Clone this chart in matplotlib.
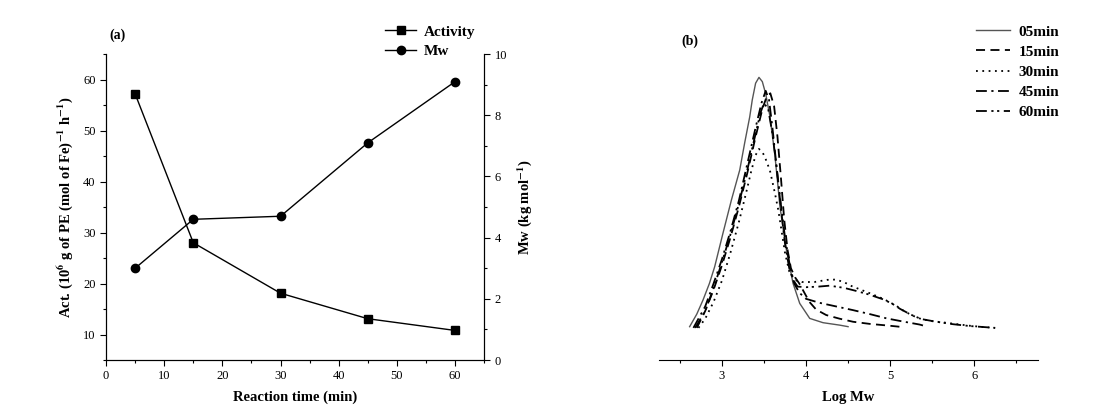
import matplotlib
matplotlib.use("Agg")
import matplotlib.pyplot as plt
from matplotlib.ticker import MultipleLocator

plt.rcParams['font.family'] = ['Liberation Serif', 'DejaVu Serif']
plt.rcParams['mathtext.fontset'] = 'stix'

# panel (a): activity and Mw vs reaction time
time_min = [5, 15, 30, 45, 60]
activity = [57.2, 28.0, 18.1, 13.1, 10.8]
mw_kg = [3.0, 4.6, 4.7, 7.1, 9.1]

# panel (b): GPC traces, log Mw vs signal
gpc_05_x = [2.615, 2.70, 2.774, 2.85, 2.913, 3.012, 3.112, 3.211, 3.27, 3.33, 3.36, 3.40, 3.44,
            3.48, 3.52, 3.568, 3.627, 3.667, 3.687, 3.727, 3.767, 3.845, 3.925, 4.044, 4.202, 4.401, 4.50]
gpc_05_y = [1.09, 1.50, 1.96, 2.50, 3.05, 4.15, 5.23, 6.21, 7.10, 7.95, 8.50, 9.05, 9.24,
            9.10, 8.70, 8.00, 6.76, 5.66, 5.07, 4.30, 3.59, 2.51, 1.85, 1.36, 1.22, 1.14, 1.09]

gpc_15_x = [2.70, 2.80, 2.90, 3.00, 3.10, 3.20, 3.30, 3.40, 3.48, 3.53, 3.575, 3.62, 3.66,
            3.70, 3.74, 3.78, 3.82, 3.87, 3.92, 3.96, 4.04, 4.12, 4.24, 4.40, 4.56, 4.76, 4.96, 5.14]
gpc_15_y = [1.05, 1.60, 2.30, 3.10, 4.00, 5.00, 6.10, 7.30, 8.20, 8.60, 8.72, 8.30, 7.30,
            6.00, 4.60, 3.60, 3.00, 2.70, 2.50, 2.30, 1.90, 1.65, 1.47, 1.35, 1.25, 1.18, 1.13, 1.08]

gpc_30_x = [2.72, 2.80, 2.90, 3.00, 3.10, 3.20, 3.29, 3.35, 3.40, 3.44, 3.48, 3.51, 3.57, 3.63,
            3.67, 3.71, 3.75, 3.80, 3.86, 3.95, 4.10, 4.25, 4.35, 4.45, 4.53, 4.65, 4.78, 4.90,
            4.99, 5.08, 5.16, 5.26, 5.37, 5.50, 5.66, 5.80, 5.95, 6.10, 6.25]
gpc_30_y = [1.05, 1.35, 1.90, 2.60, 3.50, 4.50, 5.50, 6.20, 6.70, 6.90, 6.80, 6.64, 6.20, 5.45,
            4.90, 4.20, 3.50, 2.90, 2.62, 2.55, 2.55, 2.62, 2.63, 2.55, 2.43, 2.30, 2.16, 2.02,
            1.90, 1.76, 1.61, 1.46, 1.34, 1.27, 1.22, 1.17, 1.12, 1.08, 1.05]

gpc_45_x = [2.66, 2.80, 2.90, 3.00, 3.10, 3.20, 3.30, 3.40, 3.47, 3.52, 3.56, 3.60, 3.65,
            3.70, 3.75, 3.80, 3.86, 3.92, 4.00, 4.16, 4.36, 4.56, 4.76, 4.96, 5.15, 5.35, 5.43]
gpc_45_y = [1.05, 1.75, 2.50, 3.30, 4.20, 5.20, 6.40, 7.60, 8.40, 8.80, 8.50, 7.60, 6.30,
            5.00, 3.80, 3.00, 2.50, 2.20, 2.00, 1.87, 1.75, 1.63, 1.50, 1.36, 1.26, 1.16, 1.10]

gpc_60_x = [2.68, 2.80, 2.90, 3.00, 3.10, 3.20, 3.30, 3.40, 3.46, 3.50, 3.55, 3.60, 3.65,
            3.70, 3.75, 3.80, 3.85, 3.90, 4.00, 4.15, 4.28, 4.45, 4.58, 4.75, 4.91, 5.02,
            5.12, 5.25, 5.37, 5.55, 5.75, 5.95, 6.10, 6.25]
gpc_60_y = [1.05, 1.60, 2.35, 3.20, 4.10, 5.10, 6.20, 7.40, 8.10, 8.40, 8.20, 7.40, 6.30,
            5.10, 4.00, 3.20, 2.60, 2.40, 2.38, 2.40, 2.43, 2.36, 2.27, 2.14, 1.99, 1.85,
            1.67, 1.48, 1.34, 1.25, 1.17, 1.11, 1.08, 1.05]

labels_b = ['05min', '15min', '30min', '45min', '60min']

fig = plt.figure(figsize=(10.99, 4.19), dpi=100)

# ---- (a)
ax = fig.add_axes([0.0965, 0.1408, 0.344, 0.730])
ax2 = ax.twinx()
l1, = ax.plot(time_min, activity, color='black', lw=1.0, marker='s', ms=5.8, label='Activity')
l2, = ax2.plot(time_min, mw_kg, color='black', lw=1.0, marker='o', ms=6, label='Mw')
ax.set_xlim(0, 65)
ax.set_ylim(5, 65)
ax2.set_ylim(0, 10)
ax.xaxis.set_major_locator(MultipleLocator(10))
ax.xaxis.set_minor_locator(MultipleLocator(5))
ax.set_yticks([10, 20, 30, 40, 50, 60])
ax.yaxis.set_minor_locator(MultipleLocator(5))
ax2.yaxis.set_major_locator(MultipleLocator(2))
ax2.yaxis.set_minor_locator(MultipleLocator(1))
for a in (ax, ax2):
    a.spines['top'].set_visible(False)
    a.tick_params(which='major', direction='out', length=4, width=0.8, labelsize=9)
    a.tick_params(which='minor', direction='out', length=2.5, width=0.8)
ax.set_xlabel('Reaction time (min)', fontsize=10.5, fontweight='bold', labelpad=6)
ax.set_ylabel('Act. (10$^\\mathbf{6}$ g of PE (mol of Fe)$^\\mathbf{-1}$ h$^\\mathbf{-1}$)',
              fontsize=10.5, fontweight='bold', labelpad=6)
ax2.set_ylabel('Mw (kg mol$^\\mathbf{-1}$)', fontsize=10.5, fontweight='bold', labelpad=6)
ax.text(0.01, 1.05, '(a)', transform=ax.transAxes, fontsize=10, fontweight='bold')
fig.legend([l1, l2], ['Activity', 'Mw'], loc='upper left', bbox_to_anchor=(0.345, 0.955),
           frameon=False, prop={'weight': 'bold', 'size': 11}, handlelength=2.0,
           handletextpad=0.55, labelspacing=0.4, borderaxespad=0)

# ---- (b)
bx = fig.add_axes([0.5996, 0.1408, 0.3449, 0.730])
bx.plot(gpc_05_x, gpc_05_y, color='#555555', lw=1.0, ls='-', label=labels_b[0])
bx.plot(gpc_15_x, gpc_15_y, color='black', lw=1.3, ls=(0, (5, 3)), label=labels_b[1])
bx.plot(gpc_30_x, gpc_30_y, color='black', lw=1.3, ls=(0, (1, 2.5)), label=labels_b[2])
bx.plot(gpc_45_x, gpc_45_y, color='black', lw=1.3, ls=(0, (6, 2.5, 1.2, 2.5)), label=labels_b[3])
bx.plot(gpc_60_x, gpc_60_y, color='black', lw=1.3, ls=(0, (6, 2.5, 1.2, 2, 1.2, 2.5)), label=labels_b[4])
bx.set_xlim(2.25, 6.76)
bx.set_ylim(0, 10)
for s in ('top', 'left', 'right'):
    bx.spines[s].set_visible(False)
bx.set_yticks([])
bx.xaxis.set_major_locator(MultipleLocator(1))
bx.xaxis.set_minor_locator(MultipleLocator(0.5))
bx.tick_params(which='major', direction='out', length=4, width=0.8, labelsize=9)
bx.tick_params(which='minor', direction='out', length=2.5, width=0.8)
bx.set_xlabel('Log Mw', fontsize=10.5, fontweight='bold', labelpad=6)
bx.text(0.06, 1.03, '(b)', transform=bx.transAxes, fontsize=10, fontweight='bold')
bx.legend(loc='upper left', bbox_to_anchor=(0.8825, 0.955), bbox_transform=fig.transFigure,
          frameon=False, prop={'weight': 'bold', 'size': 11}, handlelength=2.2,
          handletextpad=0.6, labelspacing=0.42, borderaxespad=0)

fig.savefig('out.png', dpi=100)
